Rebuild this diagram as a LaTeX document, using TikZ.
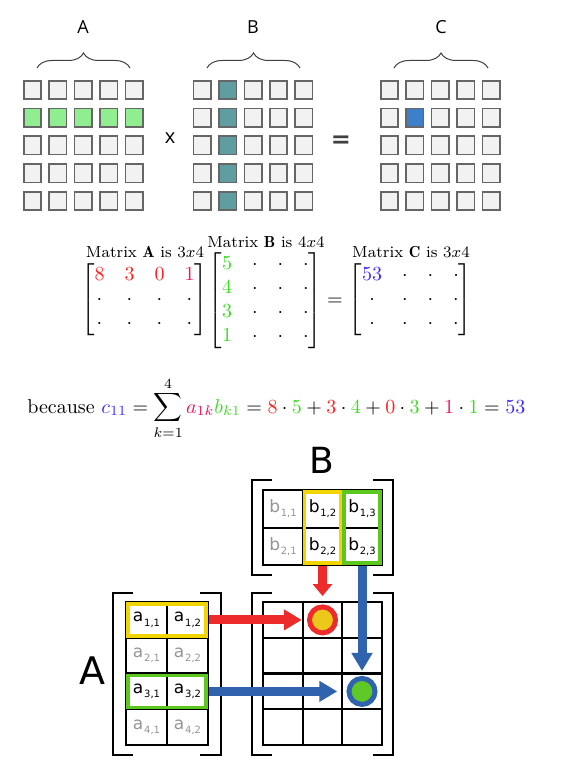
\documentclass[tikz,border=0pt]{standalone}
\usepackage{amsmath}
\usepackage{fontspec}
\newfontfamily\labelfont{Open Sans}
\newfontfamily\cellfont{DejaVu Sans}
\usetikzlibrary{arrows.meta,decorations.pathreplacing}

\definecolor{cellgray}{HTML}{F2F2F2}
\definecolor{rowgreen}{HTML}{90EE90}
\definecolor{colteal}{HTML}{5F9EA0}
\definecolor{hitblue}{HTML}{3D7FC9}
\definecolor{nred}{HTML}{FF1F1F}
\definecolor{npink}{HTML}{F0145A}
\definecolor{ngreen}{HTML}{3FD925}
\definecolor{nblue}{HTML}{3A2AFF}
\definecolor{fyellow}{HTML}{F2D400}
\definecolor{fgreen}{HTML}{5CC81E}
\definecolor{arred}{HTML}{EE2B2B}
\definecolor{arblue}{HTML}{2F63AE}
\definecolor{dotyellow}{HTML}{EBC81A}
\definecolor{dotgreen}{HTML}{5EC926}

% entry with a small index, e.g. a_{1,1}
\newcommand\ent[2]{#1\kern0.4pt\raisebox{-0.45ex}{\fontsize{5}{6}\selectfont#2}}

\tikzset{
  sq/.style={draw=black!60, line width=0.8pt, minimum width=8.7pt, minimum height=9.2pt, inner sep=0pt},
  brace/.style={decorate, decoration={brace, amplitude=7.5pt}, draw=black!75, line width=0.5pt},
  bkt/.style={line width=1.4pt},
  bcell/.style={draw, line width=1pt, minimum width=19.75pt, minimum height=18.75pt, inner sep=0pt,
    font=\cellfont\fontsize{8.5}{9}\selectfont},
  acell/.style={bcell, minimum width=20.5pt, minimum height=17.875pt},
  ccell/.style={bcell, minimum height=17.875pt},
  dim/.style={text=black!42},
  frame/.style={line width=1.8pt},
  bigarrow/.style={line width=4.5pt, -{Triangle[length=9pt,width=10pt]}},
  hit/.style={circle, draw, line width=2.5pt, minimum size=13pt, inner sep=0pt},
  caption/.style={anchor=base, inner sep=0pt, font=\footnotesize}
}

\begin{document}
\begin{tikzpicture}[x=0.5pt, y=-0.5pt]
\useasboundingbox (0,0) rectangle (571,779);

% --- A x B = C as coloured squares
\node (tA) at (83,27) {\labelfont\fontsize{9}{10}\selectfont A};
\node (tB) at (253,27) {\labelfont\fontsize{9}{10}\selectfont B};
\node (tC) at (441,27) {\labelfont\fontsize{9}{10}\selectfont C};
\draw [brace] (37,68) -- (130,68);
\draw [brace] (207,68) -- (300,68);
\draw [brace] (394,68) -- (488,68);

\foreach \i in {0,...,4}
  \foreach \j in {0,...,4} {
    \ifnum\j=1 \def\fc{rowgreen}\else\def\fc{cellgray}\fi
    \node [sq, fill=\fc] (ga\j\i) at (32.5+25.4*\i, 90+27.75*\j) {};
  }
\foreach \i in {0,...,4}
  \foreach \j in {0,...,4} {
    \ifnum\i=1 \def\fc{colteal}\else\def\fc{cellgray}\fi
    \node [sq, fill=\fc] (gb\j\i) at (202.2+25.4*\i, 90+27.75*\j) {};
  }
\foreach \i in {0,...,4}
  \foreach \j in {0,...,4} {
    \def\fc{cellgray}
    \ifnum\i=1 \ifnum\j=1 \def\fc{hitblue}\fi\fi
    \node [sq, fill=\fc] (gc\j\i) at (389.5+25.4*\i, 90+27.75*\j) {};
  }
\node (times) at (170,138) {\labelfont\fontsize{10}{10}\selectfont x};
\node (equals) [text=black!75] at (341,142) {\cellfont\bfseries\fontsize{12}{12}\selectfont =};

% --- the same with numbers
\node (labA) [caption] at (145,258) {Matrix $\mathbf{A}$ is $3x4$};
\node (labB) [caption] at (266,248) {Matrix $\mathbf{B}$ is $4x4$};
\node (labC) [caption] at (411,258) {Matrix $\mathbf{C}$ is $3x4$};
\node (matA) [inner sep=0pt] at (144.5,300) {$\begin{bmatrix}
  \color{nred}8 & \color{nred}3 & \color{nred}0 & \color{npink}1\\
  \cdot & \cdot & \cdot & \cdot\\
  \cdot & \cdot & \cdot & \cdot
\end{bmatrix}$};
\node (matB) [inner sep=0pt] at (265.5,301) {$\begin{bmatrix}
  \color{ngreen}5 & \cdot & \cdot & \cdot\\
  \color{ngreen}4 & \cdot & \cdot & \cdot\\
  \color{ngreen}3 & \cdot & \cdot & \cdot\\
  \color{ngreen}1 & \cdot & \cdot & \cdot
\end{bmatrix}$};
\node (eq) at (335,302) {$=$};
\node (matC) [inner sep=0pt] at (410.5,300) {$\begin{bmatrix}
  \color{nblue}53 & \cdot & \cdot & \cdot\\
  \cdot & \cdot & \cdot & \cdot\\
  \cdot & \cdot & \cdot & \cdot
\end{bmatrix}$};

\node (because) [anchor=base west, inner sep=0pt] at (27,413) {because $\displaystyle
  {\color{nblue}c_{11}} = \sum_{k=1}^{4}{\color{npink}a_{1k}}{\color{ngreen}b_{k1}}
  = {\color{nred}8}\cdot{\color{ngreen}5}+{\color{nred}3}\cdot{\color{ngreen}4}
  +{\color{nred}0}\cdot{\color{ngreen}3}+{\color{npink}1}\cdot{\color{ngreen}1}
  = {\color{nblue}53}$};

% --- rows of A times columns of B
\node (lB) at (322,460) {\cellfont\fontsize{18}{18}\selectfont B};
\node (lA) at (92,671) {\cellfont\fontsize{19}{19}\selectfont A};

\draw [bkt] (272,480) -- (252,480) -- (252,575) -- (272,575);
\draw [bkt] (373,480) -- (393,480) -- (393,575) -- (373,575);
\draw [bkt] (133,593) -- (113,593) -- (113,755) -- (133,755);
\draw [bkt] (200,593) -- (221,593) -- (221,755) -- (200,755);
\draw [bkt] (272,593) -- (252,593) -- (252,755) -- (272,755);
\draw [bkt] (373,593) -- (393,593) -- (393,755) -- (373,755);

\node [bcell, dim] (b11) at (283,508.75) {\ent{b}{1,1}};
\node [bcell] (b12) at (322.5,508.75) {\ent{b}{1,2}};
\node [bcell] (b13) at (362,508.75) {\ent{b}{1,3}};
\node [bcell, dim] (b21) at (283,546.25) {\ent{b}{2,1}};
\node [bcell] (b22) at (322.5,546.25) {\ent{b}{2,2}};
\node [bcell] (b23) at (362,546.25) {\ent{b}{2,3}};

\node [acell] (a11) at (146.5,619.9) {\ent{a}{1,1}};
\node [acell] (a12) at (187.5,619.9) {\ent{a}{1,2}};
\node [acell, dim] (a21) at (146.5,655.6) {\ent{a}{2,1}};
\node [acell, dim] (a22) at (187.5,655.6) {\ent{a}{2,2}};
\node [acell] (a31) at (146.5,691.4) {\ent{a}{3,1}};
\node [acell] (a32) at (187.5,691.4) {\ent{a}{3,2}};
\node [acell, dim] (a41) at (146.5,727.1) {\ent{a}{4,1}};
\node [acell, dim] (a42) at (187.5,727.1) {\ent{a}{4,2}};

\foreach \r/\y in {1/619.9,2/655.6,3/691.4,4/727.1}
  \foreach \c/\x in {1/283,2/322.5,3/362}
    \node [ccell] (c\r\c) at (\x,\y) {};

\draw [frame, fyellow] ([shift={(2.8,2.8)}]b12.north west) rectangle ([shift={(-2.8,-2.8)}]b22.south east);
\draw [frame, fgreen] ([shift={(2.8,2.8)}]b13.north west) rectangle ([shift={(-2.8,-2.8)}]b23.south east);
\draw [frame, fyellow] ([shift={(2.8,2.8)}]a11.north west) rectangle ([shift={(-2.8,-2.8)}]a12.south east);
\draw [frame, fgreen] ([shift={(2.8,2.8)}]a31.north west) rectangle ([shift={(-2.8,-2.8)}]a32.south east);

\draw [bigarrow, arred, -{Triangle[length=6pt,width=9.5pt]}, shorten >=2.5pt] (b22.south) -- (c12.north);
\draw [bigarrow, arred] (a12.east) -- (c12.west);
\draw [bigarrow, arblue, shorten >=1.75pt] (b23.south) -- (c23.south);
\draw [bigarrow, arblue, shorten >=2pt] (a32.east) -- (c33.west);

\node [hit, draw=arred, fill=dotyellow] (dotA) at (c12) {};
\node [hit, draw=arblue, fill=dotgreen] (dotB) at (c33) {};
\end{tikzpicture}
\end{document}
